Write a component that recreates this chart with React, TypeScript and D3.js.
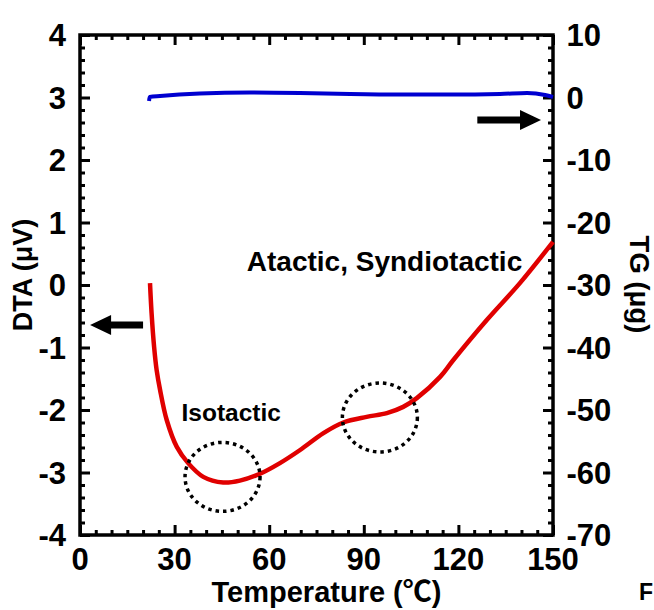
import React, { useEffect, useRef } from "react";
import * as d3 from "d3";

const width = 654;
const height = 610;
const margin = { top: 35, right: 101, bottom: 75, left: 80 };

// axes
const tempTicks = [0, 30, 60, 90, 120, 150];
const dtaTicks = [-4, -3, -2, -1, 0, 1, 2, 3, 4];
const tgTicks = [-70, -60, -50, -40, -30, -20, -10, 0, 10];

// DTA curve (red, left axis)
const dtaTemp = [22.2, 22.7, 23.5, 24.3, 25.4, 27.5, 30.7, 34.3, 39.1, 45.4, 50.7, 57.1, 63.4, 69.8, 77.2, 83.5, 90.9, 97.3, 102.5, 106.8, 114.2, 118.4, 129, 139.5, 150];
const dtaValues = [0.03, -0.45, -0.99, -1.36, -1.68, -2.16, -2.59, -2.85, -3.07, -3.16, -3.13, -3.02, -2.85, -2.64, -2.37, -2.2, -2.11, -2.05, -1.95, -1.81, -1.47, -1.2, -0.56, 0.03, 0.69];

// TG curve (blue, right axis)
const tgTemp = [21.9, 22.1, 25.4, 38, 53.9, 69.8, 85.6, 101.5, 117.3, 133.2, 141.8, 147.5, 150];
const tgValues = [-0.56, 0.08, 0.24, 0.64, 0.8, 0.72, 0.56, 0.48, 0.48, 0.56, 0.72, 0.4, 0.08];

// annotations
const circleTemp = [45.2, 95.1];
const circleDta = [-3.07, -2.12];
const labels = ["Isotactic", "Atactic, Syndiotactic"];
const labelTemp = [32.2, 52.9];
const labelDta = [-2.17, 0.23];

const FONT = "'Liberation Sans', Arial, sans-serif";

const App = () => {
  const ref = useRef<SVGSVGElement>(null);

  useEffect(() => {
    const svg = d3.select(ref.current);
    svg.selectAll("*").remove();

    const x = d3
      .scaleLinear()
      .domain([0, 150])
      .range([margin.left, width - margin.right]);
    const yL = d3
      .scaleLinear()
      .domain([-4, 4])
      .range([height - margin.bottom, margin.top]);
    const yR = d3
      .scaleLinear()
      .domain([-70, 10])
      .range([height - margin.bottom, margin.top]);

    const x0 = x.range()[0],
      x1 = x.range()[1],
      y0 = yL.range()[0],
      y1 = yL.range()[1];

    const ticks = (g: any, axis: any, size: number, values: number[]) => {
      g.call(axis.tickValues(values).tickSize(-size).tickSizeOuter(0).tickFormat(() => ""));
      g.select(".domain").remove();
      g.selectAll("line").attr("stroke", "#000").attr("stroke-width", 3);
    };

    const xMinor = d3.range(0, 151, 5).filter(v => v % 30 !== 0);
    const lMinor = d3.range(-40, 41, 2).filter(v => v % 10 !== 0).map(v => v / 10);
    const rMinor = d3.range(-70, 11, 2).filter(v => v % 10 !== 0);

    // bottom + top
    ticks(svg.append("g").attr("transform", `translate(0,${y0})`), d3.axisBottom(x), 10, tempTicks);
    ticks(svg.append("g").attr("transform", `translate(0,${y0})`), d3.axisBottom(x), 5, xMinor);
    ticks(svg.append("g").attr("transform", `translate(0,${y1})`), d3.axisTop(x), 10, tempTicks);
    ticks(svg.append("g").attr("transform", `translate(0,${y1})`), d3.axisTop(x), 5, xMinor);
    // left + right
    ticks(svg.append("g").attr("transform", `translate(${x0},0)`), d3.axisLeft(yL), 10, dtaTicks);
    ticks(svg.append("g").attr("transform", `translate(${x0},0)`), d3.axisLeft(yL), 5, lMinor);
    ticks(svg.append("g").attr("transform", `translate(${x1},0)`), d3.axisRight(yR), 10, tgTicks);
    ticks(svg.append("g").attr("transform", `translate(${x1},0)`), d3.axisRight(yR), 5, rMinor);

    svg
      .append("rect")
      .attr("x", x0)
      .attr("y", y1)
      .attr("width", x1 - x0)
      .attr("height", y0 - y1)
      .attr("fill", "none")
      .attr("stroke", "#000")
      .attr("stroke-width", 3.5);

    // tick labels
    svg
      .selectAll("text.lt")
      .data(dtaTicks)
      .enter()
      .append("text")
      .attr("class", "lt")
      .attr("x", 66)
      .attr("y", d => yL(d))
      .attr("dy", "0.36em")
      .attr("text-anchor", "end")
      .attr("font-size", 31)
      .text(d => d);

    svg
      .selectAll("text.rt")
      .data(tgTicks)
      .enter()
      .append("text")
      .attr("class", "rt")
      .attr("x", 566.5)
      .attr("y", d => yR(d))
      .attr("dy", "0.36em")
      .attr("text-anchor", "start")
      .attr("font-size", 31)
      .text(d => d);

    svg
      .selectAll("text.bt")
      .data(tempTicks)
      .enter()
      .append("text")
      .attr("class", "bt")
      .attr("x", d => x(d))
      .attr("y", 570)
      .attr("text-anchor", "middle")
      .attr("font-size", 31)
      .text(d => d);

    // axis titles
    svg
      .append("text")
      .attr("transform", `translate(32,275) rotate(-90)`)
      .attr("text-anchor", "middle")
      .attr("font-size", 27)
      .text("DTA (μV)");

    svg
      .append("text")
      .attr("transform", `translate(630,284.5) rotate(90)`)
      .attr("text-anchor", "middle")
      .attr("font-size", 27.5)
      .text("TG (μg)");

    const xt = svg
      .append("text")
      .attr("x", 326.5)
      .attr("y", 602)
      .attr("text-anchor", "middle")
      .attr("font-size", 29);
    xt.append("tspan").text("Temperature (");
    xt.append("tspan").attr("font-family", "'Noto Sans CJK JP'").text("℃");
    xt.append("tspan").text(")");

    svg.append("text").attr("x", 639).attr("y", 600).attr("font-size", 23).text("F");

    // curves
    const line = d3
      .line<number>()
      .x((d, i) => x(dtaTemp[i]))
      .y(d => yL(d))
      .curve(d3.curveCatmullRom.alpha(0.5));
    svg
      .append("path")
      .attr("d", line(dtaValues))
      .attr("fill", "none")
      .attr("stroke", "#e00000")
      .attr("stroke-width", 4.5);

    const tgLine = d3
      .line<number>()
      .x((d, i) => x(tgTemp[i]))
      .y(d => yR(d))
      .curve(d3.curveMonotoneX);
    svg
      .append("path")
      .attr("d", tgLine(tgValues))
      .attr("fill", "none")
      .attr("stroke", "#0000d0")
      .attr("stroke-width", 4);

    // dotted circles
    svg
      .selectAll("ellipse")
      .data(circleTemp)
      .enter()
      .append("ellipse")
      .attr("cx", d => x(d))
      .attr("cy", (d, i) => yL(circleDta[i]))
      .attr("rx", 37.5)
      .attr("ry", 34.5)
      .attr("fill", "none")
      .attr("stroke", "#000")
      .attr("stroke-width", 3.5)
      .attr("stroke-dasharray", "3.5 4");

    svg
      .selectAll("text.lab")
      .data(labels)
      .enter()
      .append("text")
      .attr("class", "lab")
      .attr("x", (d, i) => x(labelTemp[i]))
      .attr("y", (d, i) => yL(labelDta[i]))
      .attr("font-size", (d, i) => (i === 0 ? 24.5 : 28))
      .text(d => d);

    // arrows
    const arrow = (xs: number, xe: number, yy: number) => {
      const dir = Math.sign(xe - xs);
      const hx = xe - dir * 21;
      const p = d3.path();
      p.moveTo(xs, yy - 3.5);
      p.lineTo(hx, yy - 3.5);
      p.lineTo(hx, yy - 10);
      p.lineTo(xe, yy);
      p.lineTo(hx, yy + 10);
      p.lineTo(hx, yy + 3.5);
      p.lineTo(xs, yy + 3.5);
      p.closePath();
      svg.append("path").attr("d", p.toString()).attr("fill", "#000");
    };
    arrow(x(20), x(3.2), yL(-0.64));
    arrow(x(126), x(146.2), yR(-3.6));
  }, []);

  return (
    <svg
      ref={ref}
      width={width}
      height={height}
      style={{ position: "absolute", left: 0, top: 0, background: "#fff" }}
      fontFamily={FONT}
      fontWeight="bold"
    />
  );
};

export default App;
